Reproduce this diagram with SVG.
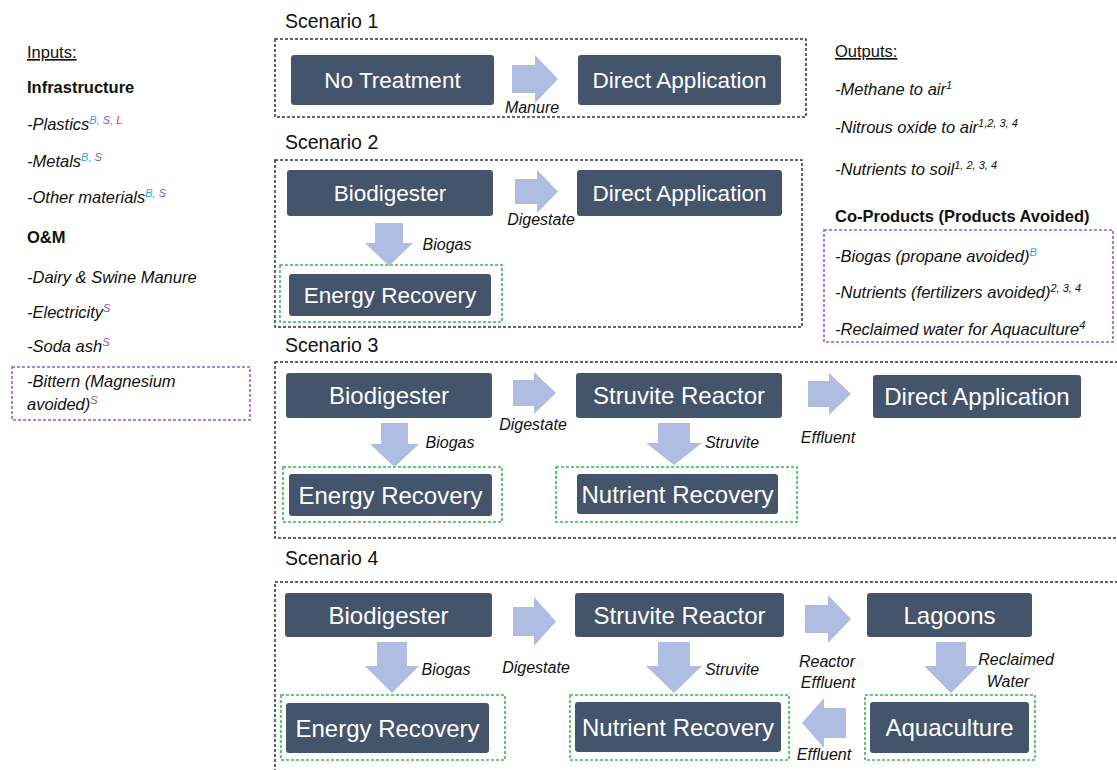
<svg xmlns="http://www.w3.org/2000/svg" width="1117" height="770" viewBox="0 0 1117 770">
<style>
.bg{fill:#ffffff}
.sc{fill:none;stroke:#333;stroke-width:1.5;stroke-dasharray:3 2}
.gr{fill:none;stroke:#2fbf4a;stroke-width:1.6;stroke-dasharray:3 2}
.pu{fill:none;stroke:#9a5bc8;stroke-width:1.6;stroke-dasharray:3 2}
.nd{fill:#44546a}
.nt{font-family:"Liberation Sans",Arial,sans-serif;fill:#ffffff;text-anchor:middle}
.s12 .nt{font-size:22.5px}
.s34 .nt{font-size:24px}
.ar{fill:#afbde2}
.lb{font-family:"Liberation Sans",Arial,sans-serif;font-style:italic;font-size:16px;fill:#111}
.mid{text-anchor:middle}
.st{font-family:"Liberation Sans",Arial,sans-serif;font-size:19.5px;fill:#111}
.tx{font-family:"Liberation Sans",Arial,sans-serif;font-size:16.5px;fill:#111}
.it{font-style:italic}
.bd{font-weight:bold}
.sup{font-size:11px}
.cb{fill:#2fa8e0}
.cs{fill:#8a4fbf}
.cl{fill:#e8323c}
</style>
<rect class="bg" x="0" y="0" width="1117" height="770"/>

<g id="inputs">
<text class="tx" x="27" y="58" text-decoration="underline">Inputs:</text>
<text class="tx bd" x="27" y="93">Infrastructure</text>
<text class="tx it" x="27" y="130">-Plastics<tspan class="sup cb" dy="-6">B,</tspan><tspan class="sup cs"> S,</tspan><tspan class="sup cl"> L</tspan></text>
<text class="tx it" x="27" y="167">-Metals<tspan class="sup cb" dy="-6">B,</tspan><tspan class="sup cs"> S</tspan></text>
<text class="tx it" x="27" y="203">-Other materials<tspan class="sup cb" dy="-6">B,</tspan><tspan class="sup cs"> S</tspan></text>
<text class="tx bd" x="27" y="243">O&amp;M</text>
<text class="tx it" x="27" y="283">-Dairy &amp; Swine Manure</text>
<text class="tx it" x="27" y="318">-Electricity<tspan class="sup cs" dy="-6">S</tspan></text>
<text class="tx it" x="27" y="352">-Soda ash<tspan class="sup cs" dy="-6">S</tspan></text>
<rect class="pu" x="12" y="367" width="238" height="53"/>
<text class="tx it" x="27" y="387">-Bittern (Magnesium</text>
<text class="tx it" x="27" y="410">avoided)<tspan class="sup cs" dy="-6">S</tspan></text>
</g>

<g id="outputs">
<text class="tx" x="835" y="57" text-decoration="underline">Outputs:</text>
<text class="tx it" x="835" y="95">-Methane to air<tspan class="sup" dy="-6">1</tspan></text>
<text class="tx it" x="835" y="133">-Nitrous oxide to air<tspan class="sup" dy="-6">1,2, 3, 4</tspan></text>
<text class="tx it" x="835" y="175">-Nutrients to soil<tspan class="sup" dy="-6">1, 2, 3, 4</tspan></text>
<text class="tx bd" x="835" y="222">Co-Products (Products Avoided)</text>
<rect class="pu" x="824" y="230" width="289" height="112"/>
<text class="tx it" x="835" y="262">-Biogas (propane avoided)<tspan class="sup cb" dy="-6">B</tspan></text>
<text class="tx it" x="835" y="298">-Nutrients (fertilizers avoided)<tspan class="sup" dy="-6">2, 3, 4</tspan></text>
<text class="tx it" x="835" y="335">-Reclaimed water for Aquaculture<tspan class="sup" dy="-6">4</tspan></text>
</g>

<g id="scenario-frames">
<text class="st" x="285" y="28">Scenario 1</text>
<rect class="sc" x="275" y="39" width="531" height="78"/>
<text class="st" x="285" y="149">Scenario 2</text>
<rect class="sc" x="275" y="160" width="527" height="167"/>
<text class="st" x="285" y="352">Scenario 3</text>
<rect class="sc" x="275" y="362" width="860" height="176"/>
<text class="st" x="285" y="565">Scenario 4</text>
<rect class="sc" x="275" y="582" width="860" height="230"/>
</g>

<g id="recovery-frames">
<rect class="gr" x="280" y="265" width="222" height="57"/>
<rect class="gr" x="283" y="467" width="219" height="55"/>
<rect class="gr" x="556" y="467" width="241" height="55"/>
<rect class="gr" x="281" y="695" width="224" height="65"/>
<rect class="gr" x="570" y="695" width="219" height="65"/>
<rect class="gr" x="865" y="695" width="170" height="65"/>
</g>

<g id="connectors">
<polygon class="ar" points="512,65 535,65 535,55 558,79 535,103 535,93 512,93"/>
<polygon class="ar" points="515,179 537,179 537,170 558,191.5 537,213 537,204 515,204"/>
<polygon class="ar" points="375,223 403,223 403,243 413,243 389,266 365,243 375,243"/>
<polygon class="ar" points="513,380 534,380 534,372 556,393 534,414 534,406 513,406"/>
<polygon class="ar" points="808,381 829,381 829,373 851,394 829,415 829,407 808,407"/>
<polygon class="ar" points="381,423 408,423 408,444 419,444 394.5,467 370,444 381,444"/>
<polygon class="ar" points="658,423 690,423 690,443 702,443 674,465 646,443 658,443"/>
<polygon class="ar" points="513,607 534,607 534,597 556,621.5 534,646 534,636 513,636"/>
<polygon class="ar" points="805,605 828,605 828,595 851,619 828,643 828,633 805,633"/>
<polygon class="ar" points="377,642 407,642 407,666 419,666 392,693 365,666 377,666"/>
<polygon class="ar" points="658,642 690,642 690,666 702,666 674,693 646,666 658,666"/>
<polygon class="ar" points="936,642 966,642 966,666 978,666 951,693 924,666 936,666"/>
<polygon class="ar" points="846,708 824,708 824,698 802,723 824,748 824,738 846,738"/>
<text class="lb mid" x="532" y="113">Manure</text>
<text class="lb mid" x="541" y="225">Digestate</text>
<text class="lb mid" x="447" y="250">Biogas</text>
<text class="lb mid" x="533" y="430">Digestate</text>
<text class="lb mid" x="450" y="448">Biogas</text>
<text class="lb mid" x="732" y="448">Struvite</text>
<text class="lb mid" x="828" y="443">Effluent</text>
<text class="lb mid" x="446" y="675">Biogas</text>
<text class="lb mid" x="536" y="673">Digestate</text>
<text class="lb mid" x="732" y="675">Struvite</text>
<text class="lb mid" x="827" y="667">Reactor</text>
<text class="lb mid" x="828" y="688">Effluent</text>
<text class="lb mid" x="1016" y="665">Reclaimed</text>
<text class="lb mid" x="1008" y="687">Water</text>
<text class="lb mid" x="824" y="760">Effluent</text>
</g>

<g class="s12">
<g id="s1-no-treatment"><rect class="nd" x="291" y="55" width="203" height="50" rx="3"/><text class="nt" x="392.5" y="88">No Treatment</text></g>
<g id="s1-direct-application"><rect class="nd" x="578" y="55" width="203" height="50" rx="3"/><text class="nt" x="679.5" y="88">Direct Application</text></g>
<g id="s2-biodigester"><rect class="nd" x="287" y="170" width="206" height="46" rx="3"/><text class="nt" x="390" y="201">Biodigester</text></g>
<g id="s2-direct-application"><rect class="nd" x="577" y="170" width="205" height="46" rx="3"/><text class="nt" x="679.5" y="201">Direct Application</text></g>
<g id="s2-energy-recovery"><rect class="nd" x="289" y="274" width="202" height="42" rx="3"/><text class="nt" x="390" y="303">Energy Recovery</text></g>
</g>
<g class="s34">
<g id="s3-biodigester"><rect class="nd" x="286" y="373" width="206" height="45" rx="3"/><text class="nt" x="389" y="404">Biodigester</text></g>
<g id="s3-struvite-reactor"><rect class="nd" x="576" y="373" width="206" height="45" rx="3"/><text class="nt" x="679" y="404">Struvite Reactor</text></g>
<g id="s3-direct-application"><rect class="nd" x="873" y="375" width="208" height="43" rx="3"/><text class="nt" x="977" y="405">Direct Application</text></g>
<g id="s3-energy-recovery"><rect class="nd" x="289" y="474" width="203" height="42" rx="3"/><text class="nt" x="390.5" y="503.5">Energy Recovery</text></g>
<g id="s3-nutrient-recovery"><rect class="nd" x="577" y="474" width="201" height="40" rx="3"/><text class="nt" x="677.5" y="502.5">Nutrient Recovery</text></g>
<g id="s4-biodigester"><rect class="nd" x="285" y="593" width="207" height="44" rx="3"/><text class="nt" x="388.5" y="623.5">Biodigester</text></g>
<g id="s4-struvite-reactor"><rect class="nd" x="575" y="593" width="209" height="44" rx="3"/><text class="nt" x="679.5" y="623.5">Struvite Reactor</text></g>
<g id="s4-lagoons"><rect class="nd" x="867" y="593" width="165" height="44" rx="3"/><text class="nt" x="949.5" y="623.5">Lagoons</text></g>
<g id="s4-energy-recovery"><rect class="nd" x="286" y="703" width="203" height="50" rx="3"/><text class="nt" x="387.5" y="736.5">Energy Recovery</text></g>
<g id="s4-nutrient-recovery"><rect class="nd" x="575" y="702" width="206" height="50" rx="3"/><text class="nt" x="678" y="735.5">Nutrient Recovery</text></g>
<g id="s4-aquaculture"><rect class="nd" x="870" y="702" width="159" height="51" rx="3"/><text class="nt" x="949.5" y="736">Aquaculture</text></g>
</g>
</svg>
